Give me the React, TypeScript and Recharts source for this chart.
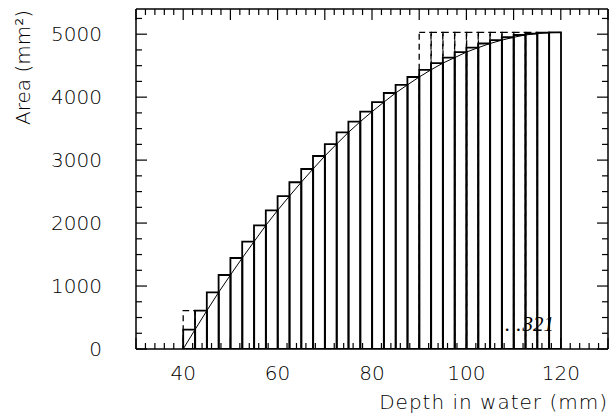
import React from 'react';
import { ComposedChart, Bar, Line, XAxis, YAxis } from 'recharts';

// Histogram bins (2.5 mm wide) covering the x range 30..130
const binWidth = 2.5;
const xMin = 30;
const xMax = 130;
const firstFilledBin = 40;

// Solid histogram: area (mm^2) per depth bin, bins starting at 40, 42.5, ... 117.5
const areaValues: number[] = [
  307, 608, 899, 1175, 1445, 1704, 1963, 2202,
  2428, 2648, 2859, 3065, 3255, 3440, 3610, 3769,
  3920, 4066, 4195, 4320, 4434, 4540, 4627, 4716,
  4786, 4852, 4905, 4951, 4987, 5010, 5024, 5029,
];

// Dashed histogram (same bins), null where not drawn
const dashedValues: (number | null)[] = [
  608, null, null, null, null, null, null, null,
  null, null, null, null, null, null, null, null,
  null, null, null, null, 5030, 5030, 5030, 5030,
  5030, 5030, 5030, 5030, 5030, 5030, null, null,
];

// Curve starts at zero area at depth 40 mm
const curveStartArea = 0;

const xTicks: number[] = [30, 32, 34, 36, 38, 40, 42, 44, 46, 48, 50, 52, 54, 56, 58, 60, 62, 64, 66, 68, 70, 72, 74, 76, 78, 80, 82, 84, 86, 88, 90, 92, 94, 96, 98, 100, 102, 104, 106, 108, 110, 112, 114, 116, 118, 120, 122, 124, 126, 128, 130];
const xLabels: number[] = [40, 60, 80, 100, 120];
const yTicks: number[] = [0, 250, 500, 750, 1000, 1250, 1500, 1750, 2000, 2250, 2500, 2750, 3000, 3250, 3500, 3750, 4000, 4250, 4500, 4750, 5000, 5250];
const yLabels: number[] = [0, 1000, 2000, 3000, 4000, 5000];

const nBins = Math.round((xMax - xMin) / binWidth);
const data = Array.from({ length: nBins }, (_, i) => {
  const start = xMin + i * binWidth;
  const k = Math.round((start - firstFilledBin) / binWidth);
  const inRange = k >= 0 && k < areaValues.length;
  return {
    bin: String(start),
    edge: start + binWidth,
    area: inRange ? areaValues[k] : null,
    dashed: inRange ? dashedValues[k] : null,
    curve: k === -1 ? curveStartArea : inRange ? areaValues[k] : null,
  };
});

const labelFont = '"DejaVu Sans", sans-serif';
const labelWeight = 200;
const textColor = '#000';

const BottomTick = (props: any) => {
  const { x, y, payload } = props;
  const v = payload.value as number;
  const len = v % 10 === 0 ? 11 : 6;
  return (
    <g>
      <line x1={x} x2={x} y1={y} y2={y - len} stroke="#000" strokeWidth={1.2} />
      {xLabels.includes(v) && (
        <text x={x} y={y + 31} textAnchor="middle" fontFamily={labelFont} fontWeight={labelWeight} fontSize={20} fill={textColor}>
          {v}
        </text>
      )}
    </g>
  );
};

const TopTick = (props: any) => {
  const { x, y, payload } = props;
  const v = payload.value as number;
  const len = v % 10 === 0 ? 11 : 6;
  return <line x1={x} x2={x} y1={y} y2={y + len} stroke="#000" strokeWidth={1.2} />;
};

const LeftTick = (props: any) => {
  const { x, y, payload } = props;
  const v = payload.value as number;
  const len = v % 1000 === 0 ? 11 : 6;
  return (
    <g>
      <line x1={x} x2={x + len} y1={y} y2={y} stroke="#000" strokeWidth={1.2} />
      {yLabels.includes(v) && (
        <text x={x - 34} y={y + 7} textAnchor="end" fontFamily={labelFont} fontWeight={labelWeight} fontSize={20} fill={textColor}>
          {v}
        </text>
      )}
    </g>
  );
};

const RightTick = (props: any) => {
  const { x, y, payload } = props;
  const v = payload.value as number;
  const len = v % 1000 === 0 ? 11 : 6;
  return <line x1={x} x2={x - len} y1={y} y2={y} stroke="#000" strokeWidth={1.2} />;
};

const frame = { stroke: '#000', strokeWidth: 1.5 };

export default function App() {
  return (
    <div style={{ position: 'absolute', left: 0, top: 0, width: 612, height: 418, background: '#fff' }}>
      <ComposedChart
        width={612}
        height={418}
        data={data}
        margin={{ top: 8, right: 3, bottom: 0, left: 0 }}
        barCategoryGap={0}
        barGap={0}
      >
        <XAxis xAxisId="c1" dataKey="bin" hide height={0} />
        <XAxis xAxisId="c2" dataKey="bin" hide height={0} />
        <XAxis
          xAxisId="num"
          type="number"
          dataKey="edge"
          domain={[xMin, xMax]}
          allowDataOverflow
          ticks={xTicks}
          interval={0}
          tickSize={0}
          tickMargin={0}
          tickLine={false}
          tick={<BottomTick />}
          height={69}
          axisLine={frame}
        />
        <XAxis
          xAxisId="top"
          orientation="top"
          type="number"
          dataKey="edge"
          domain={[xMin, xMax]}
          allowDataOverflow
          ticks={xTicks}
          interval={0}
          tickSize={0}
          tickMargin={0}
          tickLine={false}
          tick={<TopTick />}
          height={1}
          axisLine={frame}
        />
        <YAxis
          yAxisId="l"
          type="number"
          domain={[0, 5400]}
          allowDataOverflow
          ticks={yTicks}
          interval={0}
          tickSize={0}
          tickMargin={0}
          tickLine={false}
          tick={<LeftTick />}
          width={136}
          axisLine={frame}
        />
        <YAxis
          yAxisId="r"
          orientation="right"
          type="number"
          domain={[0, 5400]}
          allowDataOverflow
          ticks={yTicks}
          interval={0}
          tickSize={0}
          tickMargin={0}
          tickLine={false}
          tick={<RightTick />}
          width={1}
          axisLine={frame}
        />
        <Bar
          xAxisId="c1"
          yAxisId="l"
          dataKey="dashed"
          fill="none"
          stroke="#000"
          strokeWidth={1.3}
          strokeDasharray="6 4"
          isAnimationActive={false}
        />
        <Bar
          xAxisId="c2"
          yAxisId="l"
          dataKey="area"
          fill="none"
          stroke="#000"
          strokeWidth={1.8}
          isAnimationActive={false}
        />
        <Line
          xAxisId="num"
          yAxisId="l"
          dataKey="curve"
          type="linear"
          stroke="#000"
          strokeWidth={1}
          dot={false}
          isAnimationActive={false}
        />
        <text
          x={608}
          y={409}
          textAnchor="end"
          fontFamily={labelFont}
          fontWeight={labelWeight}
          fontSize={20}
          letterSpacing={1}
          fill={textColor}
        >
          Depth in water (mm)
        </text>
        <text
          transform="translate(30, 10) rotate(-90)"
          textAnchor="end"
          fontFamily={labelFont}
          fontWeight={labelWeight}
          fontSize={20}
          fill={textColor}
        >
          Area (mm²)
        </text>
        <text
          x={505}
          y={331}
          fontFamily='"Liberation Serif", serif'
          fontStyle="italic"
          fontSize={21}
          fill="#000"
        >
          <tspan>.</tspan>
          <tspan dx={6}>.</tspan>
          <tspan dx={1}>321</tspan>
        </text>
      </ComposedChart>
    </div>
  );
}
